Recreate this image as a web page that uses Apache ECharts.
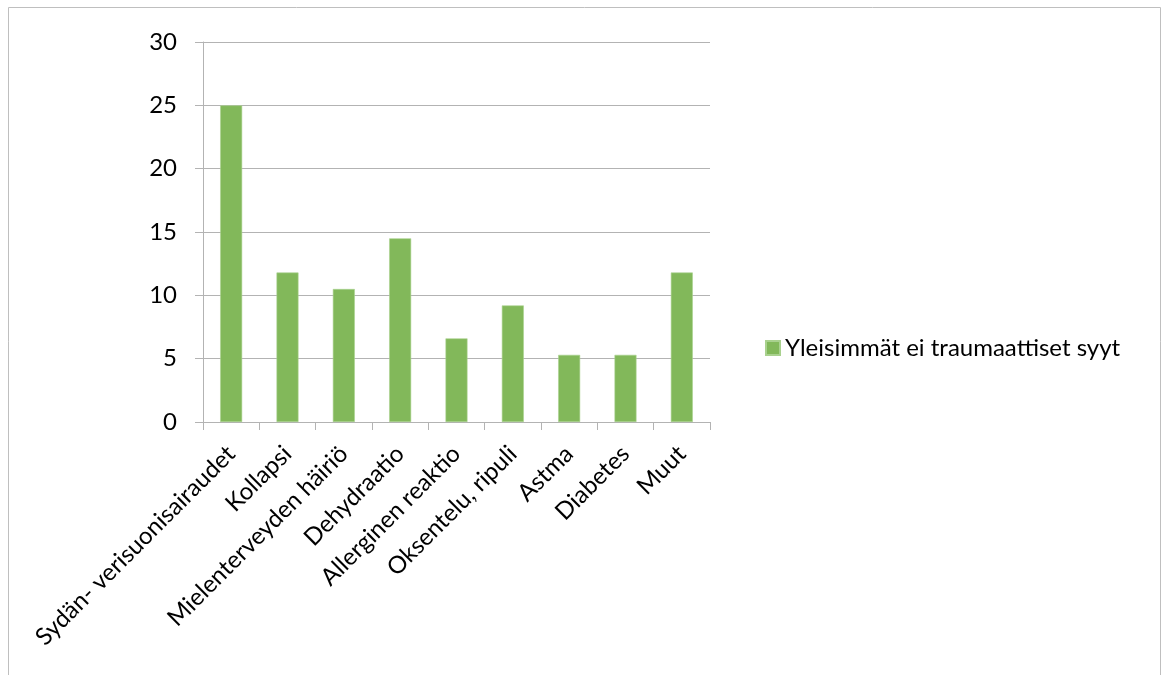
<!DOCTYPE html>
<html>
<head>
<meta charset="utf-8">
<script src="https://cdn.jsdelivr.net/npm/echarts@6/dist/echarts.min.js"></script>
<style>
  html, body { margin: 0; padding: 0; background: #fff; }
  #chart { width: 1168px; height: 675px; }
</style>
</head>
<body>
<div id="chart"></div>
<script>
// Most common non-traumatic causes (%)
const categories = [
  'Sydän- verisuonisairaudet',
  'Kollapsi',
  'Mielenterveyden häiriö',
  'Dehydraatio',
  'Allerginen reaktio',
  'Oksentelu, ripuli',
  'Astma',
  'Diabetes',
  'Muut'
];
const seriesName = 'Yleisimmät ei traumaattiset syyt';
const values = [25, 11.8, 10.5, 14.5, 6.6, 9.2, 5.3, 5.3, 11.8];
const yTicks = [0, 5, 10, 15, 20, 25, 30];

const FONT = 'Lato, "Open Sans", sans-serif';
const GRAY = '#b3b3b3';

const chart = echarts.init(document.getElementById('chart'), null, { renderer: 'canvas' });

chart.setOption({
  animation: false,
  backgroundColor: '#ffffff',
  graphic: [{
    type: 'rect',
    shape: { x: 8.5, y: 7.5, width: 1152, height: 720 },
    style: { fill: 'none', stroke: '#bfbfbf', lineWidth: 1 },
    silent: true
  }],
  grid: { left: 203, top: 42, width: 507, height: 380, containLabel: false },
  legend: {
    left: 760,
    top: 331,
    itemWidth: 14,
    itemHeight: 14,
    itemGap: 5,
    icon: 'rect',
    textStyle: { fontFamily: FONT, fontSize: 24, color: '#000' },
    data: [seriesName]
  },
  xAxis: {
    type: 'category',
    data: categories,
    axisLine: { show: true, lineStyle: { color: GRAY, width: 1 } },
    axisTick: { show: true, length: 8, alignWithLabel: false, lineStyle: { color: GRAY } },
    axisLabel: {
      rotate: 45,
      interval: 0,
      margin: 28,
      fontFamily: FONT,
      fontSize: 24,
      color: '#000'
    }
  },
  yAxis: {
    type: 'value',
    min: yTicks[0],
    max: yTicks[yTicks.length - 1],
    interval: 5,
    axisLine: { show: true, lineStyle: { color: GRAY, width: 1 } },
    axisTick: { show: true, length: 8, lineStyle: { color: GRAY } },
    splitLine: { show: true, lineStyle: { color: GRAY, width: 1 } },
    axisLabel: {
      margin: 26,
      fontFamily: FONT,
      fontSize: 24,
      color: '#000'
    }
  },
  series: [{
    name: seriesName,
    type: 'bar',
    data: values,
    barWidth: '39%',
    itemStyle: { color: '#82b85a', borderColor: '#a9d18e', borderWidth: 0.6 }
  }]
});
</script>
</body>
</html>
